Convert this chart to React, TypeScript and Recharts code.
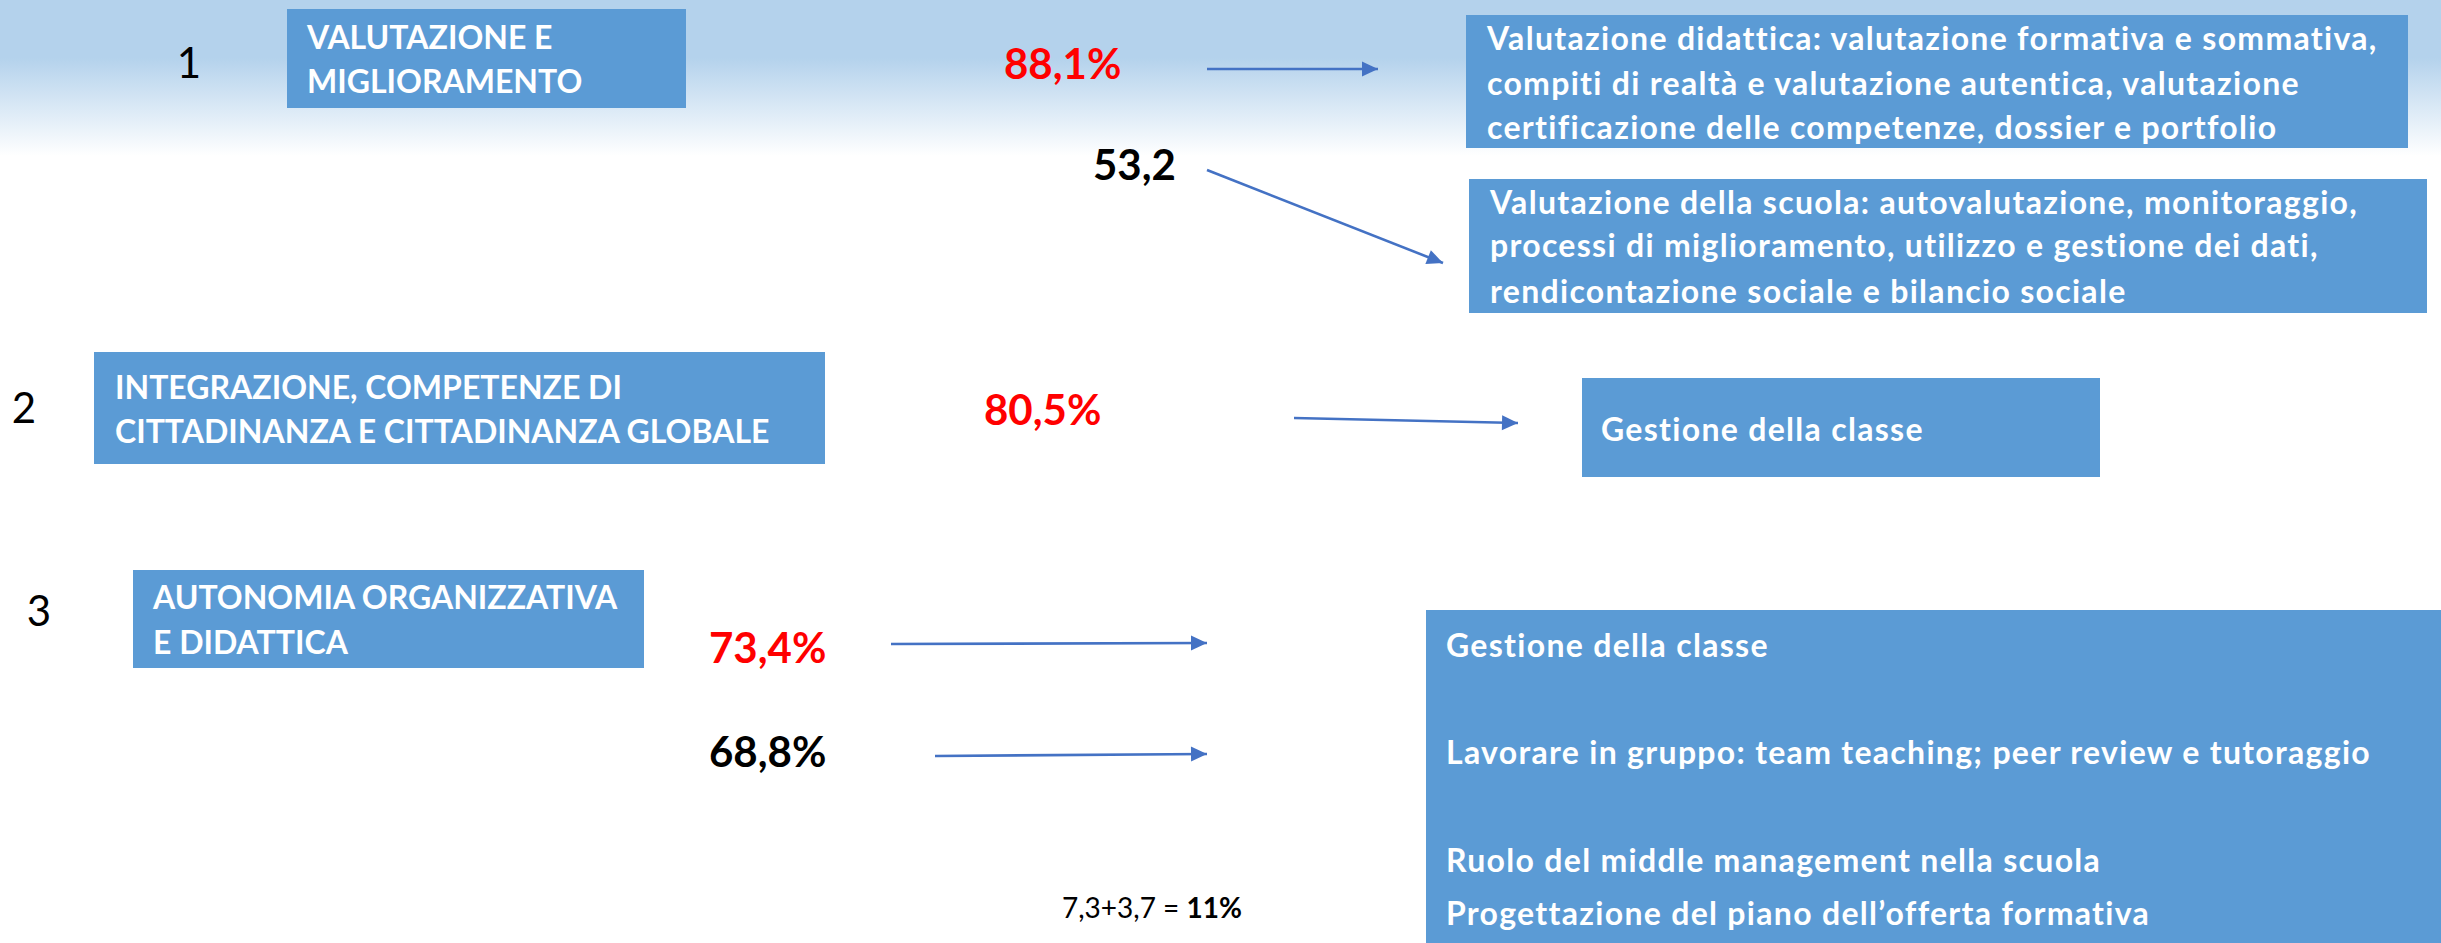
import React from 'react';
import { ComposedChart, XAxis, YAxis, ReferenceArea, Scatter, Line } from 'recharts';

// ---------- content ----------
const sectionNumbers = ['1', '2', '3'];
const sectionTitles = [
  ['VALUTAZIONE E', 'MIGLIORAMENTO'],
  ['INTEGRAZIONE, COMPETENZE DI', 'CITTADINANZA E CITTADINANZA GLOBALE'],
  ['AUTONOMIA ORGANIZZATIVA', 'E DIDATTICA'],
];
const percentLabels = ['88,1%', '53,2', '80,5%', '73,4%', '68,8%'];
const percentHighlighted = [true, false, true, true, false];
const topicTexts = [
  [
    'Valutazione didattica: valutazione formativa e sommativa,',
    'compiti di realtà e valutazione autentica, valutazione',
    'certificazione delle competenze, dossier e portfolio',
  ],
  [
    'Valutazione della scuola: autovalutazione, monitoraggio,',
    'processi di miglioramento, utilizzo e gestione dei dati,',
    'rendicontazione sociale e bilancio sociale',
  ],
  ['Gestione della classe'],
  [
    'Gestione della classe',
    'Lavorare in gruppo: team teaching; peer review e tutoraggio',
    'Ruolo del middle management nella scuola',
    'Progettazione del piano dell’offerta formativa',
  ],
];
const noteParts = ['7,3+3,7 = ', '11%'];

// ---------- layout (slide coordinates) ----------
const W = 2441;
const H = 943;
const numberPos = [
  { x: 189, y: 63 },
  { x: 24, y: 408 },
  { x: 39, y: 611 },
];
const titleBoxes = [
  { x1: 287, x2: 686, y1: 9, y2: 108, tx: 307, ly: [37.5, 82] },
  { x1: 94, x2: 825, y1: 352, y2: 464, tx: 115, ly: [388, 432] },
  { x1: 133, x2: 644, y1: 570, y2: 668, tx: 153, ly: [598, 643] },
];
const percentPos = [
  { x: 1004, y: 64 },
  { x: 1093, y: 165 },
  { x: 984, y: 410 },
  { x: 709, y: 648 },
  { x: 709, y: 752 },
];
const arrowPaths = [
  [{ x: 1207, y: 69 }, { x: 1378, y: 69 }],
  [{ x: 1207, y: 170 }, { x: 1443, y: 263 }],
  [{ x: 1294, y: 418 }, { x: 1518, y: 423 }],
  [{ x: 891, y: 644 }, { x: 1207, y: 643 }],
  [{ x: 935, y: 756 }, { x: 1207, y: 754 }],
];
const topicBoxes = [
  { x1: 1466, x2: 2408, y1: 15, y2: 148, tx: 1487, ly: [39, 83.5, 128] },
  { x1: 1469, x2: 2427, y1: 179, y2: 313, tx: 1490, ly: [202.5, 246, 292] },
  { x1: 1582, x2: 2100, y1: 378, y2: 477, tx: 1601, ly: [430] },
  { x1: 1426, x2: 2441, y1: 610, y2: 943, tx: 1446, ly: [646, 753, 861, 914] },
];
const notePos = { x: 1062, y: 908 };

// ---------- styles ----------
const FONT = 'Lato, "Open Sans", "DejaVu Sans", sans-serif';
const CAP = 0.358; // half cap-height ratio to put baseline from cap centre
const BOX_FILL = '#5b9bd5';
const ARROW = '#4472c4';
const RED = '#ff0000';
const NOLIG = { fontVariantLigatures: 'none' as const };

// ---------- derived point sets ----------
const numberPoints = sectionNumbers.map((t, i) => ({ ...numberPos[i], text: t }));
const titlePoints = sectionTitles.flatMap((lines, i) =>
  lines.map((t, j) => ({ x: titleBoxes[i].tx, y: titleBoxes[i].ly[j], text: t }))
);
const percentPoints = percentLabels.map((t, i) => ({
  ...percentPos[i],
  text: t,
  hi: percentHighlighted[i],
}));
const topicPoints = topicTexts.flatMap((lines, i) =>
  lines.map((t, j) => ({ x: topicBoxes[i].tx, y: topicBoxes[i].ly[j], text: t }))
);
const notePoints = [{ ...notePos, a: noteParts[0], b: noteParts[1] }];

const NumberShape = (p: any) => (
  <text x={p.cx} y={p.cy + CAP * 42} textAnchor="middle" fontFamily={FONT} fontSize={42} fill="#000">
    {p.payload.text}
  </text>
);
const TitleShape = (p: any) => (
  <text x={p.cx} y={p.cy + CAP * 32} fontFamily={FONT} fontWeight={700} fontSize={32} fill="#fff" style={NOLIG}>
    {p.payload.text}
  </text>
);
const PercentShape = (p: any) => (
  <text
    x={p.cx}
    y={p.cy + CAP * 42}
    fontFamily={FONT}
    fontWeight={700}
    fontSize={42}
    fill={p.payload.hi ? RED : '#000'}
  >
    {p.payload.text}
  </text>
);
const TopicShape = (p: any) => (
  <text
    x={p.cx}
    y={p.cy + CAP * 32}
    fontFamily={FONT}
    fontWeight={700}
    fontSize={32}
    letterSpacing={1.3}
    fill="#fff"
    style={NOLIG}
  >
    {p.payload.text}
  </text>
);
const NoteShape = (p: any) => (
  <text x={p.cx} y={p.cy + CAP * 28} fontFamily={FONT} fontSize={28} fill="#000">
    {p.payload.a}
    <tspan fontWeight={700}>{p.payload.b}</tspan>
  </text>
);

const makeHead = (path: { x: number; y: number }[]) => (p: any) => {
  if (p.index !== path.length - 1) return <g key={p.key ?? `d${p.index}`} />;
  const a = path[path.length - 2];
  const b = path[path.length - 1];
  const ang = Math.atan2(b.y - a.y, b.x - a.x);
  const L = 16;
  const hw = 7.5;
  const bx = p.cx - L * Math.cos(ang);
  const by = p.cy - L * Math.sin(ang);
  const nx = -Math.sin(ang);
  const ny = Math.cos(ang);
  const d = `M${p.cx},${p.cy} L${bx + hw * nx},${by + hw * ny} L${bx - hw * nx},${by - hw * ny} Z`;
  return <path key={p.key ?? `d${p.index}`} d={d} fill={ARROW} stroke="none" />;
};

export default function App() {
  return (
    <div
      style={{
        position: 'absolute',
        left: 0,
        top: 0,
        width: W,
        height: H,
        background: 'linear-gradient(to bottom, #b4d2ec 0px, #b4d2ec 58px, #ffffff 156px, #ffffff 100%)',
      }}
    >
      <ComposedChart width={W} height={H} margin={{ top: 0, right: 0, bottom: 0, left: 0 }}>
        <XAxis type="number" dataKey="x" domain={[0, W]} hide allowDataOverflow />
        <YAxis type="number" dataKey="y" domain={[0, H]} reversed hide allowDataOverflow />
        {titleBoxes.map((b, i) => (
          <ReferenceArea
            key={`tb${i}`}
            x1={b.x1}
            x2={b.x2}
            y1={b.y1}
            y2={b.y2}
            fill={BOX_FILL}
            fillOpacity={1}
            stroke="none"
          />
        ))}
        {topicBoxes.map((b, i) => (
          <ReferenceArea
            key={`pb${i}`}
            x1={b.x1}
            x2={b.x2}
            y1={b.y1}
            y2={b.y2}
            fill={BOX_FILL}
            fillOpacity={1}
            stroke="none"
          />
        ))}
        {arrowPaths.map((path, i) => (
          <Line
            key={`ar${i}`}
            data={path}
            dataKey="y"
            type="linear"
            stroke={ARROW}
            strokeWidth={2.6}
            dot={makeHead(path)}
            activeDot={false}
            legendType="none"
            isAnimationActive={false}
          />
        ))}
        <Scatter data={numberPoints} shape={NumberShape} isAnimationActive={false} />
        <Scatter data={titlePoints} shape={TitleShape} isAnimationActive={false} />
        <Scatter data={percentPoints} shape={PercentShape} isAnimationActive={false} />
        <Scatter data={topicPoints} shape={TopicShape} isAnimationActive={false} />
        <Scatter data={notePoints} shape={NoteShape} isAnimationActive={false} />
      </ComposedChart>
    </div>
  );
}
